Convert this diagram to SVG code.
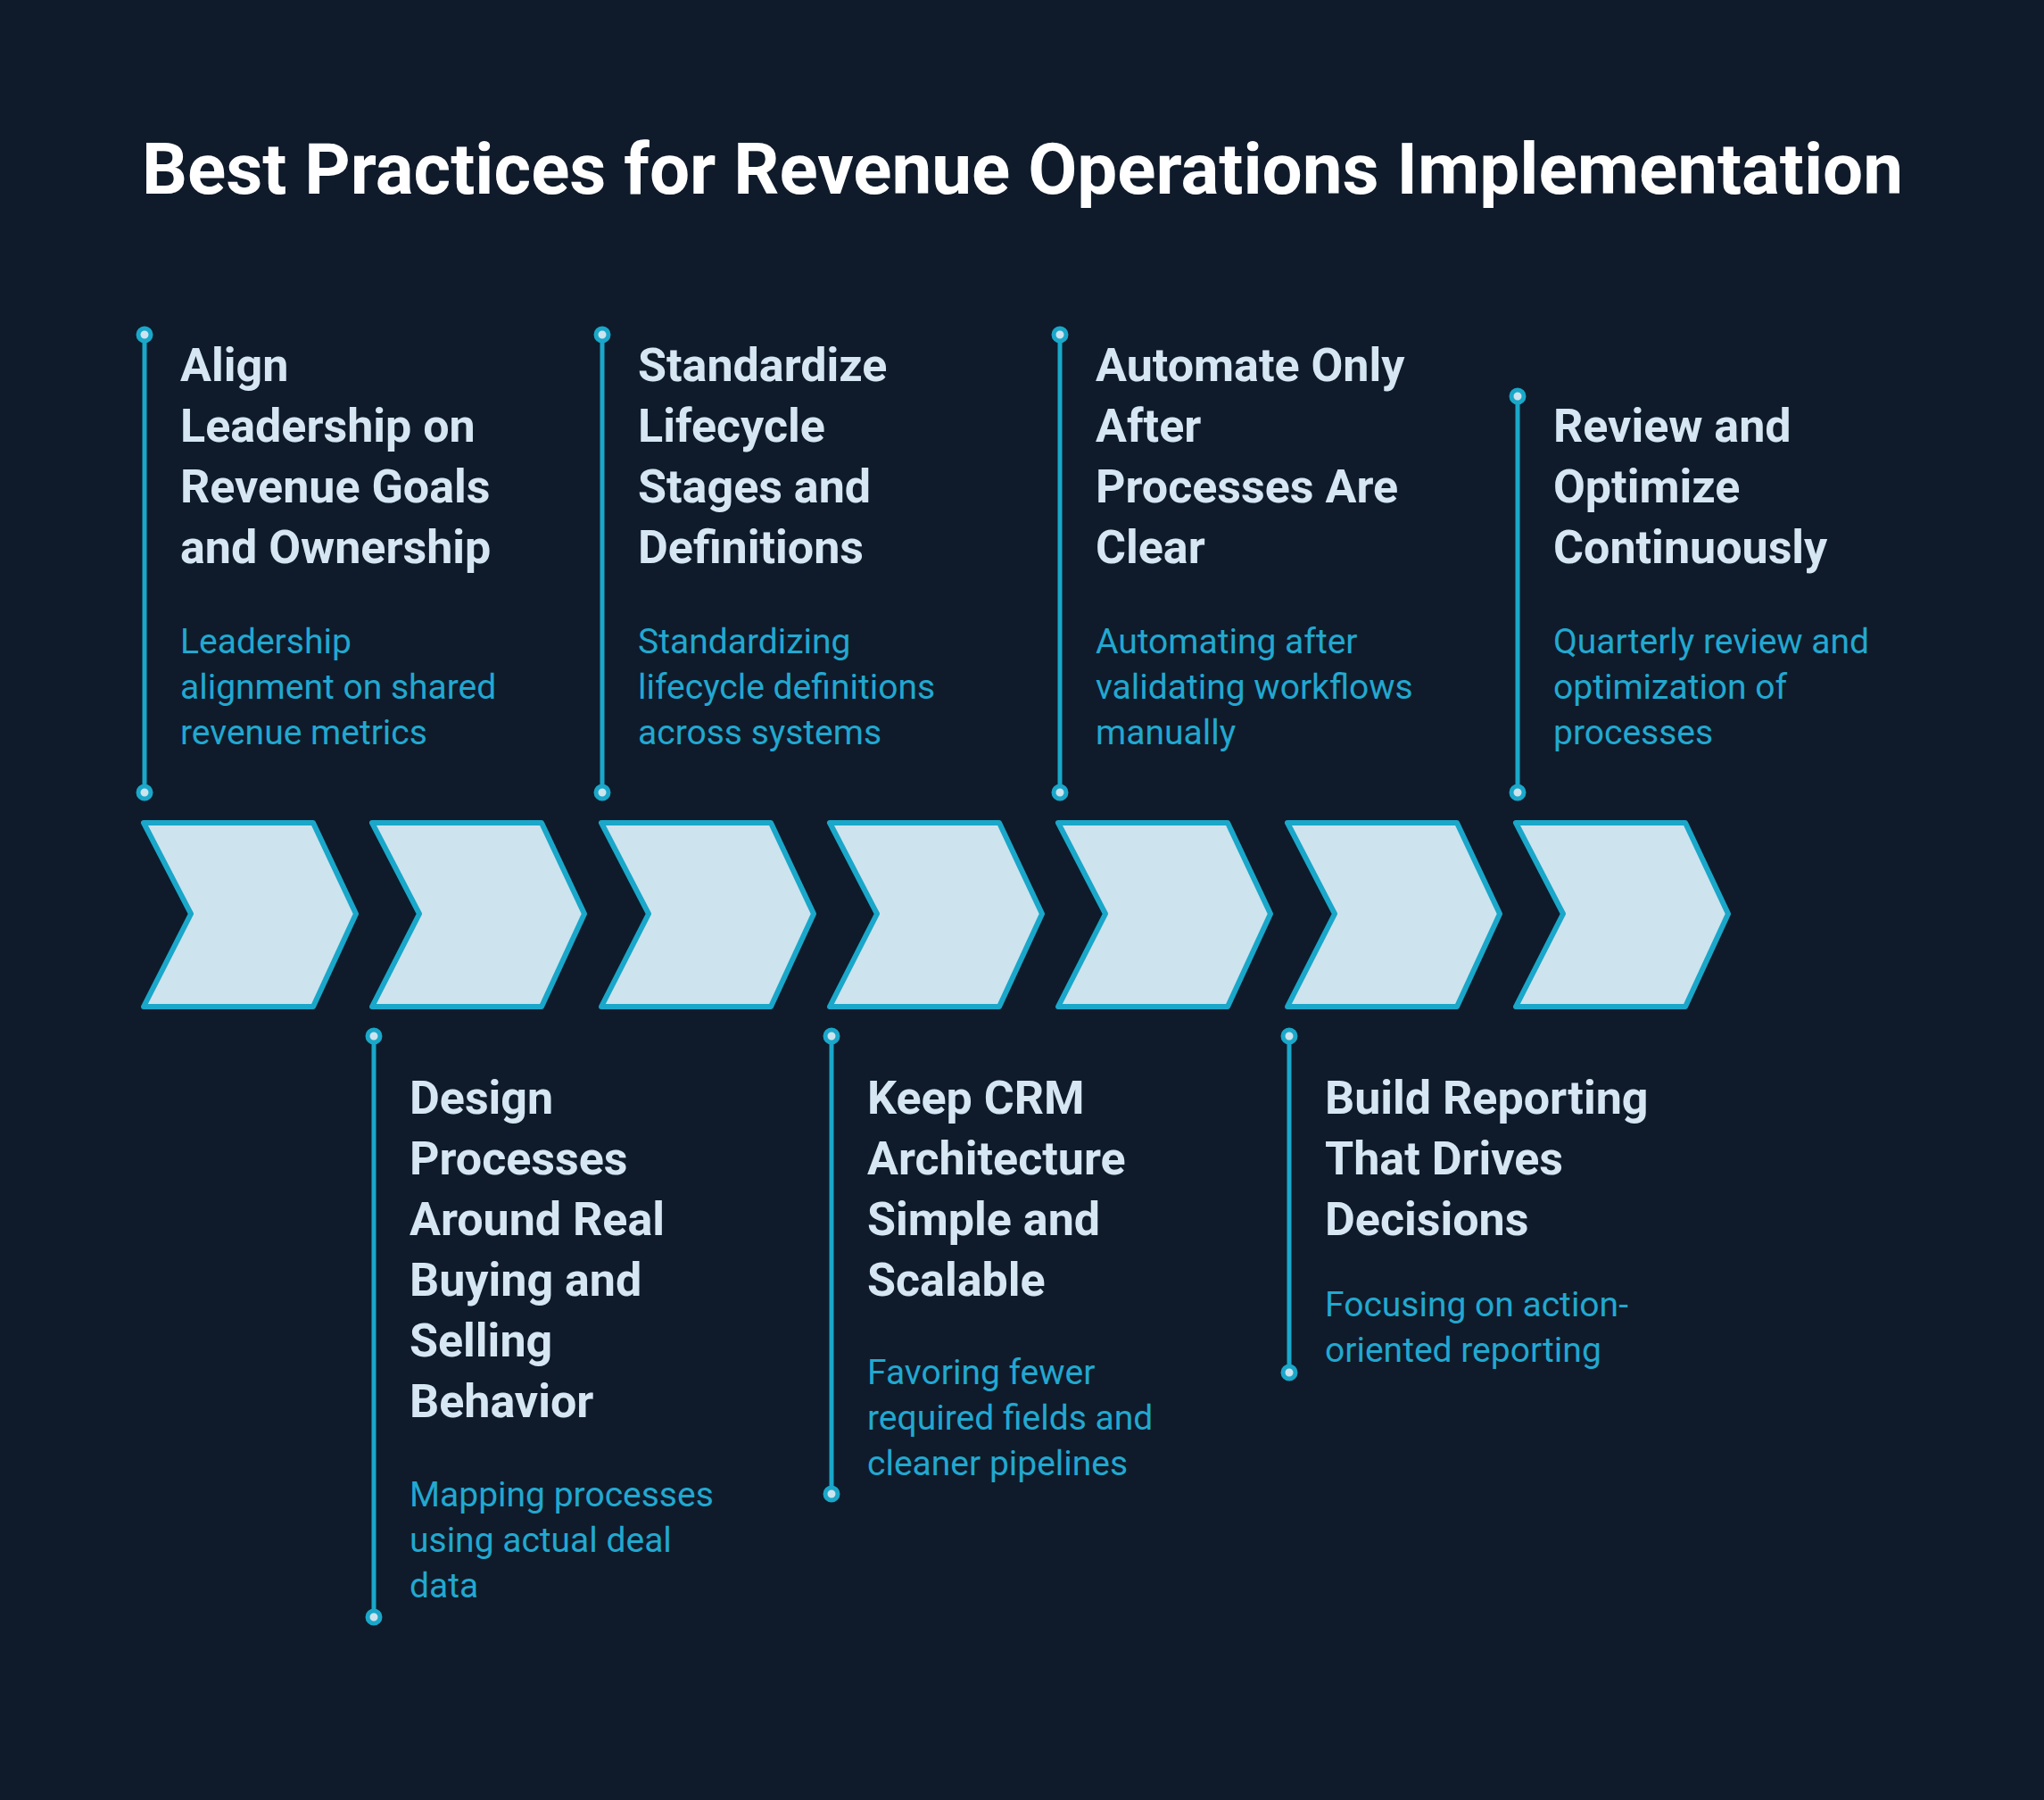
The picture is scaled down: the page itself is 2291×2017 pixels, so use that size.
<svg xmlns="http://www.w3.org/2000/svg" width="2291" height="2017" viewBox="0 0 2291 2017">
<style>
.h{font-family:Roboto,"Liberation Sans",sans-serif;font-weight:bold;font-size:52px;fill:#d6e6f2}
.d{font-family:Roboto,"Liberation Sans",sans-serif;font-size:39px;fill:#22a8d0}
.t{font-family:Roboto,"Liberation Sans",sans-serif;font-weight:bold;font-size:80px;fill:#ffffff}
.c{fill:#cde3ee;stroke:#1aa7c9;stroke-width:6;stroke-linejoin:round}
.l{stroke:#1aa7c9;stroke-width:5;fill:none}
.p{fill:#cde3ee;stroke:#1aa7c9;stroke-width:5}
</style>
<rect width="2291" height="2017" fill="#0f1b2b"/>
<text class="t" x="1146" y="217" text-anchor="middle">Best Practices for Revenue Operations Implementation</text>
<g id="chevrons">
<polygon class="c" points="161,922 351,922 399,1024 351,1128 161,1128 214,1024"/>
<polygon class="c" points="417,922 607,922 655,1024 607,1128 417,1128 470,1024"/>
<polygon class="c" points="674,922 864,922 912,1024 864,1128 674,1128 727,1024"/>
<polygon class="c" points="930,922 1120,922 1168,1024 1120,1128 930,1128 983,1024"/>
<polygon class="c" points="1186,922 1376,922 1424,1024 1376,1128 1186,1128 1239,1024"/>
<polygon class="c" points="1443,922 1633,922 1681,1024 1633,1128 1443,1128 1496,1024"/>
<polygon class="c" points="1699,922 1889,922 1937,1024 1889,1128 1699,1128 1752,1024"/>
</g>
<g id="connectors">
<line class="l" x1="162" y1="375" x2="162" y2="888"/><circle class="p" cx="162" cy="375" r="7"/><circle class="p" cx="162" cy="888" r="7"/>
<line class="l" x1="675" y1="375" x2="675" y2="888"/><circle class="p" cx="675" cy="375" r="7"/><circle class="p" cx="675" cy="888" r="7"/>
<line class="l" x1="1188" y1="375" x2="1188" y2="888"/><circle class="p" cx="1188" cy="375" r="7"/><circle class="p" cx="1188" cy="888" r="7"/>
<line class="l" x1="1701" y1="444" x2="1701" y2="888"/><circle class="p" cx="1701" cy="444" r="7"/><circle class="p" cx="1701" cy="888" r="7"/>
<line class="l" x1="419" y1="1161" x2="419" y2="1812"/><circle class="p" cx="419" cy="1161" r="7"/><circle class="p" cx="419" cy="1812" r="7"/>
<line class="l" x1="932" y1="1161" x2="932" y2="1674"/><circle class="p" cx="932" cy="1161" r="7"/><circle class="p" cx="932" cy="1674" r="7"/>
<line class="l" x1="1445" y1="1161" x2="1445" y2="1538"/><circle class="p" cx="1445" cy="1161" r="7"/><circle class="p" cx="1445" cy="1538" r="7"/>
</g>
<g id="n1">
<text class="h" x="202" y="427">Align</text><text class="h" x="202" y="495">Leadership on</text><text class="h" x="202" y="563">Revenue Goals</text><text class="h" x="202" y="631">and Ownership</text>
<text class="d" x="202" y="732">Leadership</text><text class="d" x="202" y="783">alignment on shared</text><text class="d" x="202" y="834">revenue metrics</text>
</g>
<g id="n2">
<text class="h" x="459" y="1248">Design</text><text class="h" x="459" y="1316">Processes</text><text class="h" x="459" y="1384">Around Real</text><text class="h" x="459" y="1452">Buying and</text><text class="h" x="459" y="1520">Selling</text><text class="h" x="459" y="1588">Behavior</text>
<text class="d" x="459" y="1688">Mapping processes</text><text class="d" x="459" y="1739">using actual deal</text><text class="d" x="459" y="1790">data</text>
</g>
<g id="n3">
<text class="h" x="715" y="427">Standardize</text><text class="h" x="715" y="495">Lifecycle</text><text class="h" x="715" y="563">Stages and</text><text class="h" x="715" y="631">Definitions</text>
<text class="d" x="715" y="732">Standardizing</text><text class="d" x="715" y="783">lifecycle definitions</text><text class="d" x="715" y="834">across systems</text>
</g>
<g id="n4">
<text class="h" x="972" y="1248">Keep CRM</text><text class="h" x="972" y="1316">Architecture</text><text class="h" x="972" y="1384">Simple and</text><text class="h" x="972" y="1452">Scalable</text>
<text class="d" x="972" y="1551">Favoring fewer</text><text class="d" x="972" y="1602">required fields and</text><text class="d" x="972" y="1653">cleaner pipelines</text>
</g>
<g id="n5">
<text class="h" x="1228" y="427">Automate Only</text><text class="h" x="1228" y="495">After</text><text class="h" x="1228" y="563">Processes Are</text><text class="h" x="1228" y="631">Clear</text>
<text class="d" x="1228" y="732">Automating after</text><text class="d" x="1228" y="783">validating workflows</text><text class="d" x="1228" y="834">manually</text>
</g>
<g id="n6">
<text class="h" x="1485" y="1248">Build Reporting</text><text class="h" x="1485" y="1316">That Drives</text><text class="h" x="1485" y="1384">Decisions</text>
<text class="d" x="1485" y="1475">Focusing on action-</text><text class="d" x="1485" y="1526">oriented reporting</text>
</g>
<g id="n7">
<text class="h" x="1741" y="495">Review and</text><text class="h" x="1741" y="563">Optimize</text><text class="h" x="1741" y="631">Continuously</text>
<text class="d" x="1741" y="732">Quarterly review and</text><text class="d" x="1741" y="783">optimization of</text><text class="d" x="1741" y="834">processes</text>
</g>
</svg>
